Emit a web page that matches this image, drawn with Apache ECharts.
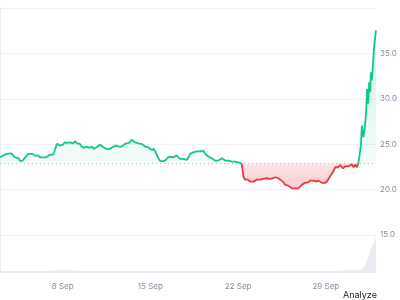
<!DOCTYPE html>
<html><head><meta charset="utf-8">
<script src="https://cdn.jsdelivr.net/npm/echarts@6/dist/echarts.min.js"></script>
<style>html,body{margin:0;padding:0;background:#fff}#c{width:400px;height:300px}</style>
</head><body><div id="c"></div>
<script>
// hours since 3 Sep 00:00
const hours = [0,6,13,16,22,25,29,32,35,38,42,45,48,51,54,57,61,64,67,70,73,77,80,83,86,89,92,96,99,102,105,109,112,115,118,121,124,128,131,134,140,144,147,150,153,156,160,163,166,169,172,176,179,182,185,188,192,195,198,201,204,207,211,214,217,220,223,227,230,233,236,239,243,246,249,252,255,259,262,265,268,271,274,278,281,284,287,290,294,297,300,303,306,310,313,316,319,322,326,329,332,335,338,341,345,348,351,354,358,361,364,367,370,373,377,380,383,386,389,393,396,399,402,405,408,412,415,418,421,425,428,431,434,437,440,444,447,450,453,456,460,463,465,466,469,472,475,479,482,485,488,492,495,498,501,504,507,511,514,517,520,523,527,530,533,536,539,543,546,549,552,555,559,562,565,568,571,574,578,581,584,587,590,594,597,600,603,606,610,613,616,619,622,626,629,632,635,638,642,645,648,651,654,657,661,664,667,670,673,677,680,683,686,688,691,693,695,696,699,701,703,705,707,709,710,712,714,716,718,720];
const prices = [23.56,23.75,23.94,23.86,24.00,23.75,23.56,23.64,23.49,23.20,23.12,23.27,23.53,23.64,23.94,24.11,23.94,23.97,23.75,23.86,23.75,23.56,23.64,23.56,23.64,23.56,23.49,23.86,23.94,23.86,24.00,25.04,25.21,24.85,24.66,24.96,25.21,25.15,25.21,25.21,25.10,25.33,25.10,25.21,25.04,24.74,24.60,24.66,24.74,24.66,24.60,24.74,24.49,24.60,24.66,24.85,24.96,24.74,24.66,24.60,24.49,24.60,24.49,24.60,24.74,24.66,24.85,24.74,24.85,24.74,24.96,25.04,25.10,25.04,25.21,25.48,25.33,25.21,25.33,25.10,25.04,25.04,24.85,24.74,24.60,24.66,24.49,24.38,24.49,24.22,23.86,23.49,23.20,23.12,23.27,23.20,23.38,23.56,23.64,23.75,23.56,23.64,23.75,23.56,23.38,23.49,23.38,23.49,23.27,23.56,23.94,24.00,24.11,24.22,24.22,24.30,24.22,24.38,24.30,23.94,23.75,23.64,23.56,23.45,23.31,23.20,23.31,23.20,23.31,23.45,23.31,23.20,23.31,23.20,23.20,23.09,23.20,23.09,23.01,23.01,22.94,22.83,21.91,21.47,21.10,20.99,21.10,20.88,20.74,20.88,20.99,21.10,20.99,21.10,21.10,21.18,21.10,21.25,21.10,21.18,21.10,21.25,21.36,21.47,21.25,21.10,20.99,20.80,20.52,20.36,20.44,20.25,20.14,20.25,20.14,20.08,20.14,20.25,20.52,20.63,20.74,20.88,20.80,20.99,20.88,20.99,20.88,20.88,20.99,20.80,20.74,20.63,20.74,20.88,21.10,21.47,21.73,21.98,22.46,22.65,22.46,22.72,22.57,22.35,22.57,22.65,22.55,22.65,22.80,22.46,22.76,22.46,22.83,23.56,24.85,27.06,27.24,25.77,27.06,28.52,31.10,29.45,31.83,30.73,32.93,32.02,33.67,35.51,36.61,37.53];
const baseline = 22.88;
const volHours = [0,24,48,72,96,108,120,132,144,168,192,216,240,264,288,312,336,360,384,408,432,456,480,504,528,552,576,600,624,648,672,684,690,696,702,708,714,720];
const volumes = [5,5,5,5,5,7,8,7,6,5,5,5,5,5,5,5,5,5,5,5,5,5,5,5,5,5,5,5,5,6,7,7,8,14,30,55,75,95];
const xLabelHours = [120,288,456,624];
const xLabelTexts = ['8 Sep','15 Sep','22 Sep','29 Sep'];
const yMin = 15, yMax = 40, yStep = 5;

const GREEN = '#16c784', RED = '#ea3943';
// segment i -> i+1 is green when it reaches above the baseline
const segUp = hours.slice(0,-1).map((h,i)=>Math.max(prices[i],prices[i+1]) > baseline);
function runLine(up){
  return hours.map((h,i)=>{
    const a = i>0 && segUp[i-1]===up, b = i<segUp.length && segUp[i]===up;
    return (a||b) ? [h,prices[i]] : [h,null];
  });
}
const greenLine = runLine(true), redLine = runLine(false);
const upper = hours.map((h,i)=>[h,Math.max(prices[i],baseline)]);
const lower = hours.map((h,i)=>[h,Math.min(prices[i],baseline)]);
const vol = volHours.map((h,i)=>[h,volumes[i]]);
const FONT = 'Inter';

const chart = echarts.init(document.getElementById('c'), null, {renderer:'canvas'});
chart.setOption({
  animation:false,
  grid:[{left:0,right:24,top:8,bottom:65},{left:0,right:24,top:235,bottom:27}],
  xAxis:[
    {type:'value',gridIndex:0,min:0,max:720,show:false,splitLine:{show:false},axisLine:{show:false}},
    {type:'value',gridIndex:1,min:0,max:720,
     axisLine:{show:false},axisTick:{show:false},splitLine:{show:false},
     axisLabel:{customValues:xLabelHours,margin:10,color:'#858ca0',fontSize:8,fontFamily:FONT,
       formatter:v=>xLabelTexts[xLabelHours.indexOf(v)]||''}}
  ],
  yAxis:[
    {type:'value',gridIndex:0,position:'right',min:yMin,max:yMax,interval:yStep,
     axisLine:{show:true,lineStyle:{color:'#eef0f3'}},axisTick:{show:false},
     splitLine:{lineStyle:{color:'#eef0f3'}},
     axisLabel:{showMaxLabel:false,margin:4,color:'#858ca0',fontSize:8,fontFamily:FONT,formatter:v=>v.toFixed(1)}},
    {type:'value',gridIndex:1,position:'right',min:0,max:100,
     axisLine:{show:true,lineStyle:{color:'#eef0f3'}},axisTick:{show:false},
     splitLine:{show:false},axisLabel:{show:false}}
  ],
  series:[
    {type:'line',data:upper,xAxisIndex:0,yAxisIndex:0,symbol:'none',z:3,
     lineStyle:{width:0,opacity:0},
     areaStyle:{origin:baseline,color:new echarts.graphic.LinearGradient(0,0,0,1,[
       {offset:0,color:'rgba(22,199,132,0.30)'},{offset:1,color:'rgba(22,199,132,0.07)'}])}},
    {type:'line',data:lower,xAxisIndex:0,yAxisIndex:0,symbol:'none',z:3,
     lineStyle:{width:0,opacity:0},
     areaStyle:{origin:baseline,color:new echarts.graphic.LinearGradient(0,0,0,1,[
       {offset:0,color:'rgba(234,57,67,0.20)'},{offset:1,color:'rgba(234,57,67,0.36)'}])}},
    {type:'line',data:greenLine,xAxisIndex:0,yAxisIndex:0,symbol:'none',z:5,connectNulls:false,
     lineStyle:{width:1.8,color:GREEN},itemStyle:{color:GREEN},
     markLine:{silent:true,symbol:'none',label:{show:false},
       lineStyle:{color:'#b5b9c2',width:1,type:[1,3]},data:[{yAxis:baseline}]}},
    {type:'line',data:redLine,xAxisIndex:0,yAxisIndex:0,symbol:'none',z:5,connectNulls:false,
     lineStyle:{width:1.8,color:RED},itemStyle:{color:RED}},
    {type:'line',data:vol,xAxisIndex:1,yAxisIndex:1,symbol:'none',smooth:true,
     lineStyle:{width:0,opacity:0},areaStyle:{color:'#e9ecf1',opacity:1}}
  ],
  graphic:[{type:'text',left:343,top:291,style:{text:'Analyze',fill:'#222',fontSize:9,fontFamily:FONT}}]
});
</script></body></html>
